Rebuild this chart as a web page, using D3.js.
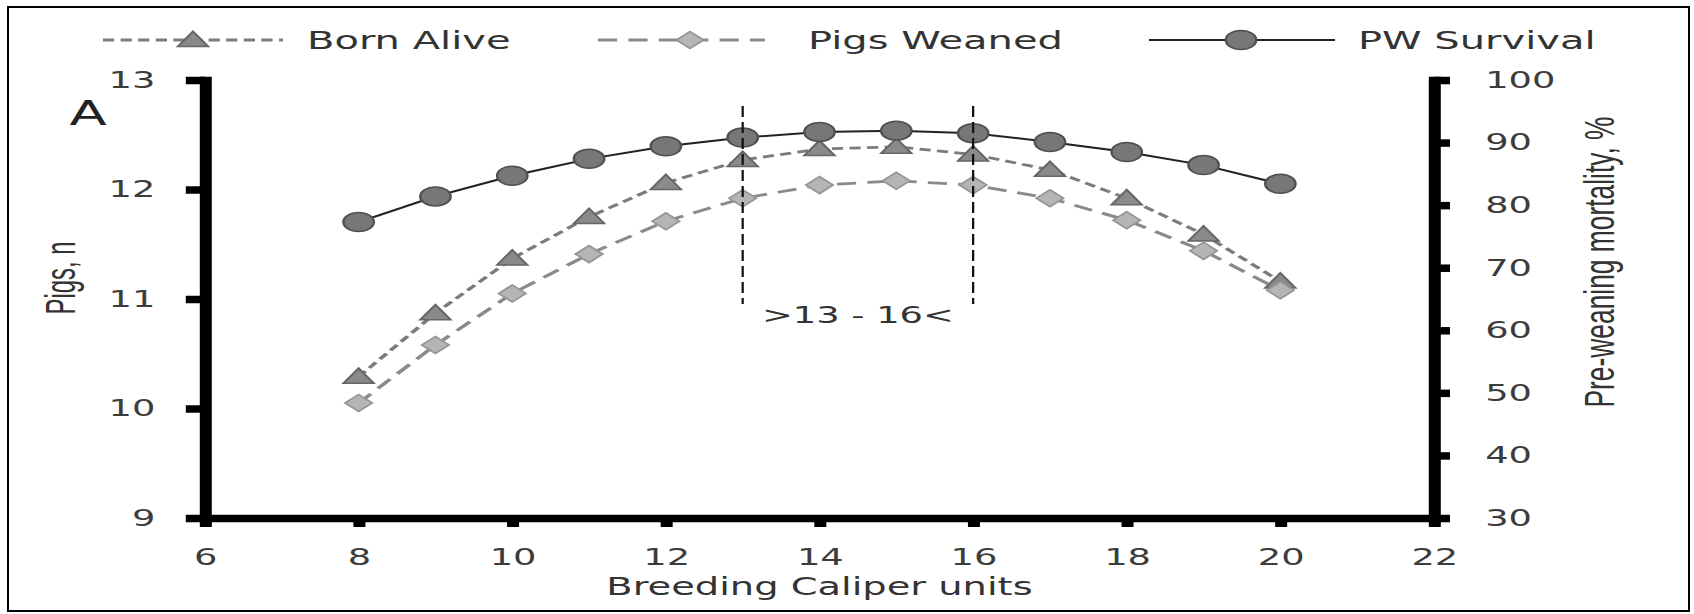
<!DOCTYPE html>
<html>
<head>
<meta charset="utf-8">
<script src="https://cdn.jsdelivr.net/npm/d3@7"></script>
<style>
  html, body { margin: 0; padding: 0; background: #fff; }
  svg { display: block; }
</style>
</head>
<body>
<svg id="chart" width="1694" height="614"></svg>
<script>
// ---------------- data ----------------
const caliper = [8, 9, 10, 11, 12, 13, 14, 15, 16, 17, 18, 19, 20];
const bornAlive = [10.29, 10.87, 11.37, 11.75, 12.06, 12.27, 12.37, 12.39, 12.32, 12.18, 11.92, 11.59, 11.16];
const pigsWeaned = [10.05, 10.58, 11.05, 11.41, 11.71, 11.92, 12.04, 12.08, 12.04, 11.92, 11.72, 11.44, 11.08];
const pwSurvival = [77.3, 81.4, 84.7, 87.4, 89.4, 90.8, 91.7, 91.9, 91.5, 90.1, 88.5, 86.4, 83.4];
const xTicks = [6, 8, 10, 12, 14, 16, 18, 20, 22];
const leftTicks = [9, 10, 11, 12, 13];
const rightTicks = [30, 40, 50, 60, 70, 80, 90, 100];
const rangeMarks = [13, 16];
const seriesNames = ["Born Alive", "Pigs Weaned", "PW Survival"];
const panelLabel = "A";
const rangeLabel = ">13 - 16<";
const xTitle = "Breeding Caliper units";
const yLeftTitle = "Pigs, n";
const yRightTitle = "Pre-weaning mortality, %";

// ---------------- layout ----------------
const S = 1.6; // horizontal stretch of the reference picture
const svg = d3.select("#chart");
const FONT = "'DejaVu Sans', Verdana, sans-serif";
const FONT2 = "'Liberation Sans', Arial, sans-serif";

svg.append("rect").attr("x", 8).attr("y", 7).attr("width", 1681).attr("height", 604)
  .attr("fill", "none").attr("stroke", "#000").attr("stroke-width", 2);

const g = svg.append("g").attr("transform", `scale(${S},1)`);

const x = d3.scaleLinear().domain([6, 22]).range([205 / S, 1434 / S]);
const yL = d3.scaleLinear().domain([9, 13]).range([518, 80]);
const yR = d3.scaleLinear().domain([30, 100]).range([518, 80]);

const styles = {
  born: { line: "#7c7c7c", dash: "7,4", width: 2.8, fill: "#8a8a8a", stroke: "#666666" },
  weaned: { line: "#8a8a8a", dash: "12,7", width: 2.8, fill: "#b5b5b5", stroke: "#969696" },
  pw: { line: "#222222", dash: null, width: 2, fill: "#777777", stroke: "#505050" }
};

const triPath = "M0,-8.5L9.5,6.5L-9.5,6.5Z";
const diaPath = "M0,-8.5L8.5,0L0,8.5L-8.5,0Z";

function drawMarker(sel, kind, st) {
  if (kind === "circle") {
    sel.append("circle").attr("r", 9.5).attr("fill", st.fill).attr("stroke", st.stroke).attr("stroke-width", 1.5);
  } else {
    sel.append("path").attr("d", kind === "tri" ? triPath : diaPath)
      .attr("fill", st.fill).attr("stroke", st.stroke).attr("stroke-width", 1.5);
  }
}

// ---------------- axes ----------------
function styleAxis(ax) {
  ax.attr("font-family", FONT).attr("font-size", 23);
  ax.select(".domain").attr("stroke", "#000").attr("stroke-width", 7.5).attr("stroke-linecap", "square");
  ax.selectAll(".tick line").attr("stroke", "#000").attr("stroke-width", 7.5);
  ax.selectAll(".tick text").attr("fill", "#3c3c3c");
}

const axL = g.append("g").attr("transform", `translate(${x(6)},0)`)
  .call(d3.axisLeft(yL).tickValues(leftTicks).tickSize(12).tickSizeOuter(0).tickPadding(19).tickFormat(d3.format("d")));
styleAxis(axL);

const axR = g.append("g").attr("transform", `translate(${x(22)},0)`)
  .call(d3.axisRight(yR).tickValues(rightTicks).tickSize(10).tickSizeOuter(0).tickPadding(22).tickFormat(d3.format("d")));
styleAxis(axR);

const axB = g.append("g").attr("transform", `translate(0,${yL(9)})`)
  .call(d3.axisBottom(x).tickValues(xTicks).tickSize(9).tickSizeOuter(0).tickPadding(22).tickFormat(d3.format("d")));
styleAxis(axB);

// ---------------- series ----------------
const series = [
  { key: "born", vals: bornAlive, y: yL, marker: "tri" },
  { key: "weaned", vals: pigsWeaned, y: yL, marker: "dia" },
  { key: "pw", vals: pwSurvival, y: yR, marker: "circle" }
];

series.forEach(s => {
  const st = styles[s.key];
  const pts = caliper.map((c, i) => ({ c, v: s.vals[i] }));
  const line = d3.line().x(d => x(d.c)).y(d => s.y(d.v));
  g.append("path").datum(pts).attr("d", line).attr("fill", "none")
    .attr("stroke", st.line).attr("stroke-width", st.width)
    .attr("stroke-dasharray", st.dash);
  const m = g.append("g").selectAll("g").data(pts).join("g")
    .attr("transform", d => `translate(${x(d.c)},${s.y(d.v)})`);
  m.each(function () { drawMarker(d3.select(this), s.marker, st); });
});

// ---------------- range marks ----------------
g.append("g").selectAll("line").data(rangeMarks).join("line")
  .attr("x1", d => x(d)).attr("x2", d => x(d))
  .attr("y1", 106).attr("y2", 304)
  .attr("stroke", "#111").attr("stroke-width", 1.4).attr("stroke-dasharray", "11,5");

g.append("text").attr("x", (x(rangeMarks[0]) + x(rangeMarks[1])) / 2).attr("y", 323)
  .attr("text-anchor", "middle").attr("font-family", FONT).attr("font-size", 23)
  .attr("fill", "#333").text(rangeLabel);

// ---------------- labels ----------------
g.append("text").attr("x", 88 / S).attr("y", 125).attr("text-anchor", "middle")
  .attr("font-family", FONT).attr("font-size", 34).attr("fill", "#222").text(panelLabel);

g.append("text").attr("x", (x(6) + x(22)) / 2).attr("y", 595).attr("text-anchor", "middle")
  .attr("font-family", FONT).attr("font-size", 24).attr("fill", "#333").text(xTitle);

g.append("text").attr("transform", `translate(${75 / S},278) rotate(-90)`)
  .attr("text-anchor", "middle").attr("font-family", FONT2).attr("font-size", 26)
  .attr("textLength", 73).attr("lengthAdjust", "spacingAndGlyphs")
  .attr("fill", "#333").text(yLeftTitle);

g.append("text").attr("transform", `translate(${1614 / S},262) rotate(-90)`)
  .attr("text-anchor", "middle").attr("font-family", FONT2).attr("font-size", 26)
  .attr("textLength", 291).attr("lengthAdjust", "spacingAndGlyphs")
  .attr("fill", "#333").text(yRightTitle);

// ---------------- legend ----------------
const legendItems = [
  { name: seriesNames[0], key: "born", marker: "tri", x1: 103, x2: 283, mx: 193, tx: 307 },
  { name: seriesNames[1], key: "weaned", marker: "dia", x1: 598, x2: 765, mx: 690, tx: 808 },
  { name: seriesNames[2], key: "pw", marker: "circle", x1: 1149, x2: 1335, mx: 1241, tx: 1358 }
];
const lg = g.append("g");
legendItems.forEach(it => {
  const st = styles[it.key];
  lg.append("line").attr("x1", it.x1 / S).attr("x2", it.x2 / S).attr("y1", 40).attr("y2", 40)
    .attr("stroke", st.line).attr("stroke-width", st.width).attr("stroke-dasharray", st.dash);
  const mg = lg.append("g").attr("transform", `translate(${it.mx / S},40)`);
  drawMarker(mg, it.marker, st);
  lg.append("text").attr("x", it.tx / S).attr("y", 49).attr("font-family", FONT)
    .attr("font-size", 25).attr("fill", "#333").text(it.name);
});
</script>
</body>
</html>
